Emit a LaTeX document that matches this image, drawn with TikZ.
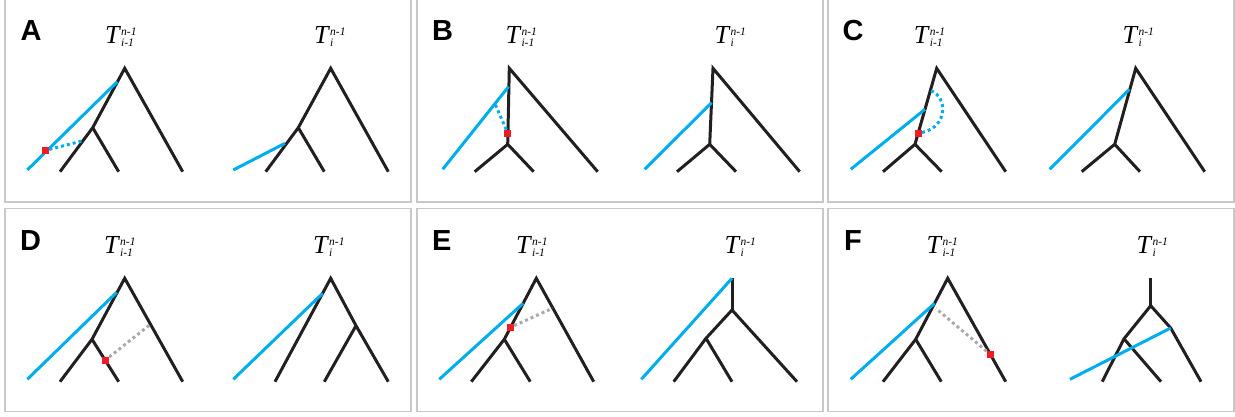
\documentclass[tikz,border=0pt]{standalone}
\usepackage{fontspec}
\setmainfont{Liberation Serif}
\newfontfamily\tagfont{Liberation Sans}
\usetikzlibrary{positioning}
\definecolor{trblack}{HTML}{231F20}
\definecolor{trblue}{HTML}{00AEEF}
\definecolor{trred}{HTML}{ED1C24}
\definecolor{trgray}{HTML}{A7A9AC}
\definecolor{trframe}{HTML}{C7C8CA}
\newcommand{\treename}[2]{\textit{T}\rlap{\raisebox{8pt}{\fontsize{11.5}{11.5}\selectfont\itshape #1}}\raisebox{-3pt}{\fontsize{11.5}{11.5}\selectfont\itshape #2}}

\begin{document}
\begin{tikzpicture}[
  x=1pt, y=-1pt,
  branch/.style={draw=trblack, line width=3pt},
  graft/.style={draw=trblue, line width=3pt},
  prune/.style={draw=trblue, line width=3pt, dash pattern=on 3pt off 3pt},
  regraft/.style={draw=trgray, line width=3pt, dash pattern=on 3pt off 3pt},
  cut/.style={fill=trred, minimum size=7pt, inner sep=0pt},
  panel/.style={draw=trframe, line width=1.5pt},
  tag/.style={anchor=base west, inner sep=0pt, font=\tagfont\bfseries\fontsize{29}{29}\selectfont},
  treelabel/.style={anchor=base west, inner sep=0pt, font=\fontsize{26}{26}\selectfont},
]
  \useasboundingbox (0,0) rectangle (1235,417);

  % Frames ------------------------------------------------------------------
  \draw[panel] (5,-2) rectangle (411,202);
  \draw[panel] (417,-2) rectangle (823,202);
  \draw[panel] (828,-2) rectangle (1234,202);
  \draw[panel] (5,208.5) rectangle (411,411.7);
  \draw[panel] (417,208.5) rectangle (823,411.7);
  \draw[panel] (828,208.5) rectangle (1234,411.7);

  % A -----------------------------------------------------------------------
  \node[tag] (atag) at (20.5,41) {A};
  \node[treelabel] (aprevname) at (105,43.5) {\treename{n-1}{i-1}};
  \node[treelabel] (acurrname) at (314,43.5) {\treename{n-1}{i}};
  \coordinate (aprevroot) at (124.7,68.3);
  \coordinate (aprevknot) at (92.7,127.7);
  \coordinate (aprevleafa) at (60,171.7);
  \coordinate (aprevleafb) at (118.7,171.7);
  \coordinate (aprevleafc) at (182.7,171.7);
  \draw[branch] (aprevleafa) -- (aprevknot) -- (aprevroot) -- (aprevleafc);
  \draw[branch] (aprevknot) -- (aprevleafb);
  \coordinate (aprevtip) at (27.3,170);
  \coordinate (aprevgraft) at (117.3,81.7);
  \draw[graft] (aprevtip) -- (aprevgraft);
  \coordinate (aprevland) at (83.3,140.7);
  \node[cut] (acut) at (45.7,150.3) {};
  \draw[prune] (acut) -- (aprevland);
  \coordinate (acurrroot) at (330.7,68.3);
  \coordinate (acurrknot) at (298.3,127.7);
  \coordinate (acurrleafa) at (265.7,171.7);
  \coordinate (acurrleafb) at (324.3,171.7);
  \coordinate (acurrleafc) at (388.3,171.7);
  \draw[branch] (acurrleafa) -- (acurrknot) -- (acurrroot) -- (acurrleafc);
  \draw[branch] (acurrknot) -- (acurrleafb);
  \coordinate (acurrtip) at (233.3,170);
  \coordinate (acurrgraft) at (285,143.3);
  \draw[graft] (acurrtip) -- (acurrgraft);

  % B -----------------------------------------------------------------------
  \node[tag] (btag) at (432,41) {B};
  \node[treelabel] (bprevname) at (505.3,43.5) {\treename{n-1}{i-1}};
  \node[treelabel] (bcurrname) at (714.3,43.5) {\treename{n-1}{i}};
  \coordinate (bprevroot) at (509.3,68.3);
  \coordinate (bprevknot) at (507.7,144.3);
  \coordinate (bprevleafa) at (474.7,171.7);
  \coordinate (bprevleafb) at (533.7,171.7);
  \coordinate (bprevleafc) at (597.7,171.7);
  \draw[branch] (bprevleafa) -- (bprevknot) -- (bprevroot) -- (bprevleafc);
  \draw[branch] (bprevknot) -- (bprevleafb);
  \coordinate (bprevtip) at (442.7,169.3);
  \coordinate (bprevgraft) at (508.5,86.7);
  \draw[graft] (bprevtip) -- (bprevgraft);
  \coordinate (bprevland) at (494.5,102.7);
  \node[cut] (bcut) at (507.9,133.3) {};
  \draw[prune] (bcut) -- (bprevland);
  \coordinate (bcurrroot) at (713,68.3);
  \coordinate (bcurrknot) at (709.7,144.3);
  \coordinate (bcurrleafa) at (677,171.7);
  \coordinate (bcurrleafb) at (736,171.7);
  \coordinate (bcurrleafc) at (799.7,171.7);
  \draw[branch] (bcurrleafa) -- (bcurrknot) -- (bcurrroot) -- (bcurrleafc);
  \draw[branch] (bcurrknot) -- (bcurrleafb);
  \coordinate (bcurrtip) at (644.7,169.3);
  \coordinate (bcurrgraft) at (711.5,102.7);
  \draw[graft] (bcurrtip) -- (bcurrgraft);

  % C -----------------------------------------------------------------------
  \node[tag] (ctag) at (842.5,41) {C};
  \node[treelabel] (cprevname) at (913.7,43.5) {\treename{n-1}{i-1}};
  \node[treelabel] (ccurrname) at (1122.3,43.5) {\treename{n-1}{i}};
  \coordinate (cprevroot) at (936.7,68.3);
  \coordinate (cprevknot) at (915,144.3);
  \coordinate (cprevleafa) at (883,171.7);
  \coordinate (cprevleafb) at (941.7,171.7);
  \coordinate (cprevleafc) at (1005.7,171.7);
  \draw[branch] (cprevleafa) -- (cprevknot) -- (cprevroot) -- (cprevleafc);
  \draw[branch] (cprevknot) -- (cprevleafb);
  \coordinate (cprevtip) at (850.7,169.3);
  \coordinate (cprevgraft) at (925,109.3);
  \draw[graft] (cprevtip) -- (cprevgraft);
  \coordinate (cprevland) at (930.7,90.7);
  \node[cut] (ccut) at (918.3,133.3) {};
  \draw[prune] (ccut) .. controls (948,127) and (948,97) .. (cprevland);
  \coordinate (ccurrroot) at (1135.7,68.3);
  \coordinate (ccurrknot) at (1114.7,144.3);
  \coordinate (ccurrleafa) at (1081.7,171.7);
  \coordinate (ccurrleafb) at (1140,171.7);
  \coordinate (ccurrleafc) at (1204.7,171.7);
  \draw[branch] (ccurrleafa) -- (ccurrknot) -- (ccurrroot) -- (ccurrleafc);
  \draw[branch] (ccurrknot) -- (ccurrleafb);
  \coordinate (ccurrtip) at (1049.7,169.3);
  \coordinate (ccurrgraft) at (1129.5,89.3);
  \draw[graft] (ccurrtip) -- (ccurrgraft);

  % D -----------------------------------------------------------------------
  \node[tag] (dtag) at (20,250) {D};
  \node[treelabel] (dprevname) at (104,253.5) {\treename{n-1}{i-1}};
  \node[treelabel] (dcurrname) at (313,253.5) {\treename{n-1}{i}};
  \coordinate (dprevroot) at (124.7,278.3);
  \coordinate (dprevknot) at (92,339.3);
  \coordinate (dprevleafa) at (60,381.7);
  \coordinate (dprevleafb) at (118.7,381.7);
  \coordinate (dprevleafc) at (182.7,381.7);
  \draw[branch] (dprevleafa) -- (dprevknot) -- (dprevroot) -- (dprevleafc);
  \draw[branch] (dprevknot) -- (dprevleafb);
  \coordinate (dprevtip) at (27.3,379.3);
  \coordinate (dprevgraft) at (116.7,292.3);
  \draw[graft] (dprevtip) -- (dprevgraft);
  \coordinate (dprevland) at (150.5,324.3);
  \node[cut] (dcut) at (105.5,360) {};
  \draw[regraft] (dcut) -- (dprevland);
  \coordinate (dcurrroot) at (330.7,278.3);
  \coordinate (dcurrknot) at (356,325.7);
  \coordinate (dcurrleafa) at (275,381.7);
  \coordinate (dcurrleafb) at (324.3,381.7);
  \coordinate (dcurrleafc) at (388.3,381.7);
  \draw[branch] (dcurrleafa) -- (dcurrroot) -- (dcurrknot) -- (dcurrleafc);
  \draw[branch] (dcurrknot) -- (dcurrleafb);
  \coordinate (dcurrtip) at (233.3,379.3);
  \coordinate (dcurrgraft) at (322.7,293.3);
  \draw[graft] (dcurrtip) -- (dcurrgraft);

  % E -----------------------------------------------------------------------
  \node[tag] (etag) at (432,250) {E};
  \node[treelabel] (eprevname) at (516,253.5) {\treename{n-1}{i-1}};
  \node[treelabel] (ecurrname) at (724.3,253.5) {\treename{n-1}{i}};
  \coordinate (eprevroot) at (536.3,278.3);
  \coordinate (eprevknot) at (504.3,339.3);
  \coordinate (eprevleafa) at (471.3,381.7);
  \coordinate (eprevleafb) at (530.3,381.7);
  \coordinate (eprevleafc) at (593.7,381.7);
  \draw[branch] (eprevleafa) -- (eprevknot) -- (eprevroot) -- (eprevleafc);
  \draw[branch] (eprevknot) -- (eprevleafb);
  \coordinate (eprevtip) at (439.3,379.3);
  \coordinate (eprevgraft) at (523.2,303.3);
  \draw[graft] (eprevtip) -- (eprevgraft);
  \coordinate (eprevland) at (552.5,308.3);
  \node[cut] (ecut) at (510.5,327.3) {};
  \draw[regraft] (ecut) -- (eprevland);
  \coordinate (ecurrtop) at (732,278.3);
  \coordinate (ecurrroot) at (732,310);
  \coordinate (ecurrknot) at (706,338.3);
  \coordinate (ecurrleafa) at (673.7,381.7);
  \coordinate (ecurrleafb) at (732,381.7);
  \coordinate (ecurrleafc) at (797,381.7);
  \draw[branch] (ecurrtop) -- (ecurrroot);
  \draw[branch] (ecurrleafa) -- (ecurrknot) -- (ecurrroot) -- (ecurrleafc);
  \draw[branch] (ecurrknot) -- (ecurrleafb);
  \coordinate (ecurrtip) at (641.3,379.3);
  \draw[graft] (ecurrtip) -- (ecurrtop);

  % F -----------------------------------------------------------------------
  \node[tag] (ftag) at (844,250) {F};
  \node[treelabel] (fprevname) at (926.3,253.5) {\treename{n-1}{i-1}};
  \node[treelabel] (fcurrname) at (1136.3,253.5) {\treename{n-1}{i}};
  \coordinate (fprevroot) at (947.7,278.3);
  \coordinate (fprevknot) at (915.7,339.3);
  \coordinate (fprevleafa) at (883,381.7);
  \coordinate (fprevleafb) at (941.3,381.7);
  \coordinate (fprevleafc) at (1005.7,381.7);
  \draw[branch] (fprevleafa) -- (fprevknot) -- (fprevroot) -- (fprevleafc);
  \draw[branch] (fprevknot) -- (fprevleafb);
  \coordinate (fprevtip) at (850.7,379.3);
  \coordinate (fprevgraft) at (934.6,303.3);
  \draw[graft] (fprevtip) -- (fprevgraft);
  \coordinate (fprevland) at (936,308.5);
  \node[cut] (fcut) at (990.3,354.3) {};
  \draw[regraft] (fcut) -- (fprevland);
  \coordinate (fcurrtop) at (1150.7,278.3);
  \coordinate (fcurrroot) at (1150.7,305.7);
  \coordinate (fcurrknot) at (1124,338.8);
  \coordinate (fcurrbend) at (1170.7,328);
  \coordinate (fcurrleafa) at (1102.2,381.7);
  \coordinate (fcurrleafb) at (1161,381.7);
  \coordinate (fcurrleafc) at (1201,381.7);
  \draw[branch] (fcurrtop) -- (fcurrroot);
  \draw[branch] (fcurrleafa) -- (fcurrknot) -- (fcurrroot) -- (fcurrbend) -- (fcurrleafc);
  \draw[branch] (fcurrknot) -- (fcurrleafb);
  \coordinate (fcurrtip) at (1070,379.3);
  \draw[graft] (fcurrtip) -- (fcurrbend);
\end{tikzpicture}
\end{document}
